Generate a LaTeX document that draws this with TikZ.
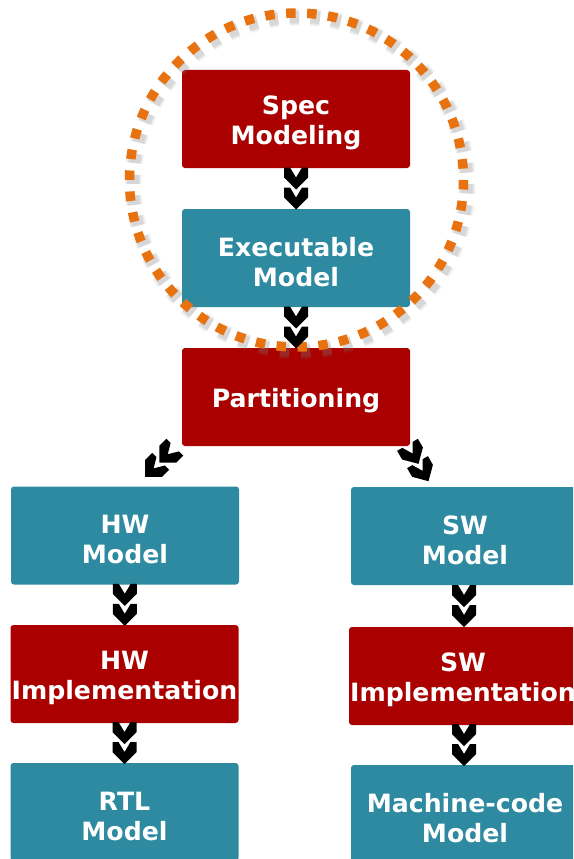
\documentclass[tikz,border=0pt]{standalone}
\usepackage{fontspec}
\setmainfont{DejaVu Sans}
\usetikzlibrary{calc}
\definecolor{stepred}{RGB}{170,0,0}
\definecolor{stepteal}{RGB}{46,138,160}
\definecolor{ringorange}{RGB}{232,114,16}
\tikzset{
  x=1pt, y=-1pt,
  stagebox/.style={rounded corners=3pt, minimum width=228pt, minimum height=98pt,
    inner sep=0pt},
  redbox/.style={stagebox, fill=stepred},
  tealbox/.style={stagebox, fill=stepteal},
  stagetext/.style={align=center, text=white, inner sep=0pt,
    font=\fontsize{25.2}{30}\selectfont\bfseries},
  ring/.style={line width=9.5pt, dash pattern=on 9.5pt off 11.49pt},
  dchev/.pic={
    \foreach \t in {-21,-1}{
      \fill[black] (-12,\t) -- (-6,\t) -- (0,\t+10) -- (6,\t) -- (12,\t)
        -- (12,\t+10) -- (0,\t+22) -- (-12,\t+10) -- cycle;
    }
  }
}
\newcommand{\stage}[4]{%
  \node[#1] (#2) at #3 {};
  \node[stagetext] at ($(#2.center)+(0,4)$) {#4};
}
\begin{document}
\begin{tikzpicture}
\useasboundingbox (0,0) rectangle (573,859);
\clip (0,0) rectangle (573,859);

% stages of the flow
\stage{redbox}{spec}{(296,119)}{Spec\\Modeling}
\stage{tealbox}{exec}{(296,258)}{Executable\\Model}
\stage{redbox}{part}{(296,397)}{Partitioning}
\stage{tealbox}{hwm}{(125,535.5)}{HW\\Model}
\stage{tealbox}{swm}{(465,536)}{SW\\Model}
\stage{redbox}{hwi}{(124.5,674)}{HW\\Implementation}
\stage{redbox}{swi}{(463,676)}{SW\\Implementation}
\stage{tealbox}{rtl}{(124.5,812)}{RTL\\Model}
\stage{tealbox}{mc}{(465,814)}{Machine-code\\Model}

% dotted ring around the specification stages, with a soft shadow
\coordinate (ringc) at (296.5,180);
\foreach \d/\o in {8/0.06,6/0.08,4/0.10,2/0.12}{
  \draw[ring, gray, opacity=\o, line width=9.5pt+\d pt] ($(ringc)+(3.5,4)$) circle (167);
}
\draw[ring, ringorange] (ringc) circle (167);

% double-chevron connectors
\pic at ($(spec.south)!0.5!(exec.north)$) {dchev};
\pic at ($(exec.south)!0.5!(part.north)$) {dchev};
\pic at ($(hwm.south)!0.5!(hwi.north)$) {dchev};
\pic at ($(swm.south)!0.5!(swi.north)$) {dchev};
\pic at ($(hwi.south)!0.5!(rtl.north)$) {dchev};
\pic at ($(swi.south)!0.5!(mc.north)$) {dchev};
\coordinate (toHW) at (160,462);
\coordinate (toSW) at (418,463);
\pic[rotate=-45] at (toHW) {dchev};
\pic[rotate=30] at (toSW) {dchev};
\end{tikzpicture}
\end{document}
